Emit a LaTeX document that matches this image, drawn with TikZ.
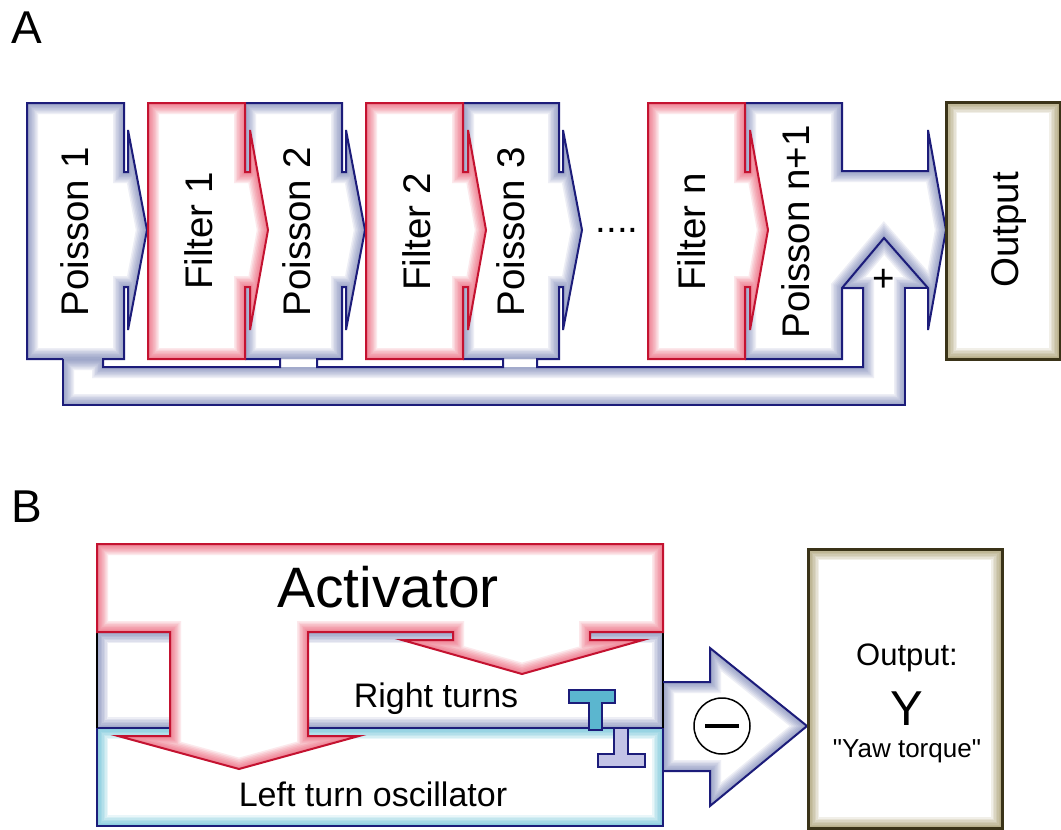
\documentclass[tikz,border=0pt]{standalone}
\usepackage{fontspec}
\setmainfont{Liberation Sans}[Ligatures=TeXOff]
\definecolor{navyline}{HTML}{1C1C7A}
\definecolor{navyglow}{HTML}{5C6AA6}
\definecolor{redline}{HTML}{C41230}
\definecolor{redglow}{HTML}{E8314F}
\definecolor{oliveline}{HTML}{3A3318}
\definecolor{oliveglow}{HTML}{857632}
\definecolor{cyanglow}{HTML}{38AECB}
\definecolor{ibeamfill}{HTML}{5BB6CF}
\definecolor{ibeamlight}{HTML}{C3C3E6}
\newcommand{\glowarea}[2]{%
  \begin{scope}
    \clip #2;
    \fill[white] #2;
    \foreach \gw in {22,19,16,13,10,7,4}
      {\draw[#1, line width=\gw pt, opacity=0.11] #2;}
  \end{scope}}
\tikzset{
  poissonline/.style={draw=navyline, line width=2pt},
  filterline/.style={draw=redline, line width=2pt},
  outbox/.style={draw=oliveline, line width=3pt},
  blocktext/.style={font=\fontsize{38.5}{40}\selectfont, inner sep=0pt, anchor=base},
  boxtext/.style={font=\fontsize{34}{36}\selectfont, inner sep=0pt, anchor=base}
}
\begin{document}
\begin{tikzpicture}[x=1pt,y=-1pt]
\useasboundingbox (0,0) rectangle (1061,830);
\fill[white] (0,0) rectangle (1061,830);
\glowarea{navyglow}{(63,359) -- (103,359) -- (103,367) -- (863,367) -- (863,288) -- (842,288) -- (884,238) -- (928,288) -- (905,288) -- (905,405) -- (63,405) -- cycle}
\foreach \l/\r in {27/124,245/342,463/559}{
  \glowarea{navyglow}{(\l,103) -- (\r,103) -- (\r,172) -- ({\r+4},172) -- ({\r+4},130) -- ({\r+23},230) -- ({\r+4},330) -- ({\r+4},287) -- (\r,287) -- (\r,359) -- (\l,359) -- cycle}
}
\glowarea{navyglow}{(745,103) -- (842,103) -- (842,171) -- (928,171) -- (928,130) -- (946,230) -- (928,330) -- (928,288) -- (884,238) -- (842,288) -- (842,359) -- (745,359) -- cycle}
\foreach \l/\r in {148/245,366/463,648/745}{
  \glowarea{redglow}{(\l,103) -- (\r,103) -- (\r,172) -- ({\r+5},172) -- ({\r+5},130) -- ({\r+23},230) -- ({\r+5},330) -- ({\r+5},287) -- (\r,287) -- (\r,359) -- (\l,359) -- cycle}
}
\glowarea{oliveglow}{(946,102) rectangle (1060,359)}
\draw[poissonline] (63,359) -- (27,359) -- (27,103) -- (124,103) -- (124,172) -- (128,172) -- (128,130) -- (147,230) -- (128,330) -- (128,287) -- (124,287) -- (124,359) -- (103,359) -- (103,367) -- (280,367) -- (280,359) -- (245,359);
\draw[poissonline] (245,103) -- (342,103) -- (342,172) -- (346,172) -- (346,130) -- (365,230) -- (346,330) -- (346,287) -- (342,287) -- (342,359) -- (317,359) -- (317,367) -- (503,367) -- (503,359) -- (463,359);
\draw[poissonline] (463,103) -- (559,103) -- (559,172) -- (563,172) -- (563,130) -- (582,230) -- (563,330) -- (563,287) -- (559,287) -- (559,359) -- (537,359) -- (537,367) -- (863,367) -- (863,288) -- (842,288);
\draw[poissonline] (745,359) -- (842,359) -- (842,288) -- (884,238) -- (928,288) -- (928,330) -- (946,230) -- (928,130) -- (928,171) -- (842,171) -- (842,103) -- (745,103);
\draw[poissonline] (63,359) -- (63,405) -- (905,405) -- (905,288) -- (928,288);
\foreach \l/\r in {148/245,366/463,648/745}
  \draw[filterline] (\l,103) -- (\r,103) -- (\r,172) -- ({\r+5},172) -- ({\r+5},130) -- ({\r+23},230) -- ({\r+5},330) -- ({\r+5},287) -- (\r,287) -- (\r,359) -- (\l,359) -- cycle;
\draw[outbox] (946,102) rectangle (1060,359);
\node[blocktext, rotate=90] (poisson1) at (88,232) {Poisson 1};
\node[blocktext, rotate=90] (filter1) at (212,231) {Filter 1};
\node[blocktext, rotate=90] (poisson2) at (310,232) {Poisson 2};
\node[blocktext, rotate=90] (filter2) at (430,232) {Filter 2};
\node[blocktext, rotate=90] (poisson3) at (524,232) {Poisson 3};
\node[blocktext] (dots) at (617,232) {....};
\node[blocktext, rotate=90] (filtern) at (705,232) {Filter n};
\node[blocktext, rotate=90] (poissonn) at (809,232) {Poisson n+1};
\node[blocktext] (plus) at (884,291) {+};
\node[blocktext, rotate=90] (outa) at (1018,230) {Output};
\node[anchor=base, inner sep=0pt, font=\fontsize{46}{48}\selectfont] (labela) at (27,43) {A};
\glowarea{cyanglow}{(97,728) rectangle (663,826)}
\glowarea{navyglow}{(97,632) rectangle (663,728)}
\glowarea{redglow}{(97,544) -- (663,544) -- (663,632) -- (590,632) -- (590,640) -- (643,640) -- (522,674) -- (402,640) -- (453,640) -- (453,632) -- (308,632) -- (308,736) -- (359,736) -- (239,769) -- (118,736) -- (170,736) -- (170,632) -- (97,632) -- cycle}
\glowarea{navyglow}{(663,682) -- (710,682) -- (710,648) -- (807,726) -- (710,806) -- (710,771) -- (663,771) -- cycle}
\glowarea{oliveglow}{(808,549) rectangle (1002,828)}
\draw[poissonline] (97,728) -- (97,826) -- (663,826) -- (663,728);
\draw[poissonline] (97,728) -- (170,728) (308,728) -- (663,728);
\draw[black, line width=2pt] (97,632) -- (97,728) (663,632) -- (663,728);
\draw[poissonline] (663,682) -- (710,682) -- (710,648) -- (807,726) -- (710,806) -- (710,771) -- (663,771);
\draw[filterline] (97,544) -- (663,544) -- (663,632) -- (590,632) -- (590,640) -- (643,640) -- (522,674) -- (402,640) -- (453,640) -- (453,632) -- (308,632) -- (308,736) -- (359,736) -- (239,769) -- (118,736) -- (170,736) -- (170,632) -- (97,632) -- cycle;
\draw[poissonline, line width=2.5pt, fill=ibeamfill] (569,690) -- (615,690) -- (615,703) -- (602,703) -- (602,730) -- (589,730) -- (589,703) -- (569,703) -- cycle;
\draw[poissonline, line width=2.5pt, fill=ibeamlight] (614,728) -- (628,728) -- (628,754) -- (645,754) -- (645,767) -- (598,767) -- (598,754) -- (614,754) -- cycle;
\draw[outbox] (808,549) rectangle (1002,828);
\node[circle, draw, line width=1.5pt, minimum size=56pt, inner sep=0pt] (minus) at (722,726) {\rule{34pt}{4pt}};
\node[anchor=base, inner sep=0pt, font=\fontsize{57}{60}\selectfont] (activator) at (388,607) {Activator};
\node[boxtext] (right) at (436,707) {Right turns};
\node[boxtext] (left) at (373,806) {Left turn oscillator};
\node[anchor=base, inner sep=0pt, font=\fontsize{31}{33}\selectfont] (outb) at (907,665) {Output:};
\node[anchor=base, inner sep=0pt, font=\fontsize{49}{51}\selectfont] (yaw) at (907,725) {Y};
\node[anchor=base, inner sep=0pt, font=\fontsize{26}{28}\selectfont] (torque) at (907,757) {"Yaw torque"};
\node[anchor=base, inner sep=0pt, font=\fontsize{46}{48}\selectfont] (labelb) at (27,522) {B};
\end{tikzpicture}
\end{document}
